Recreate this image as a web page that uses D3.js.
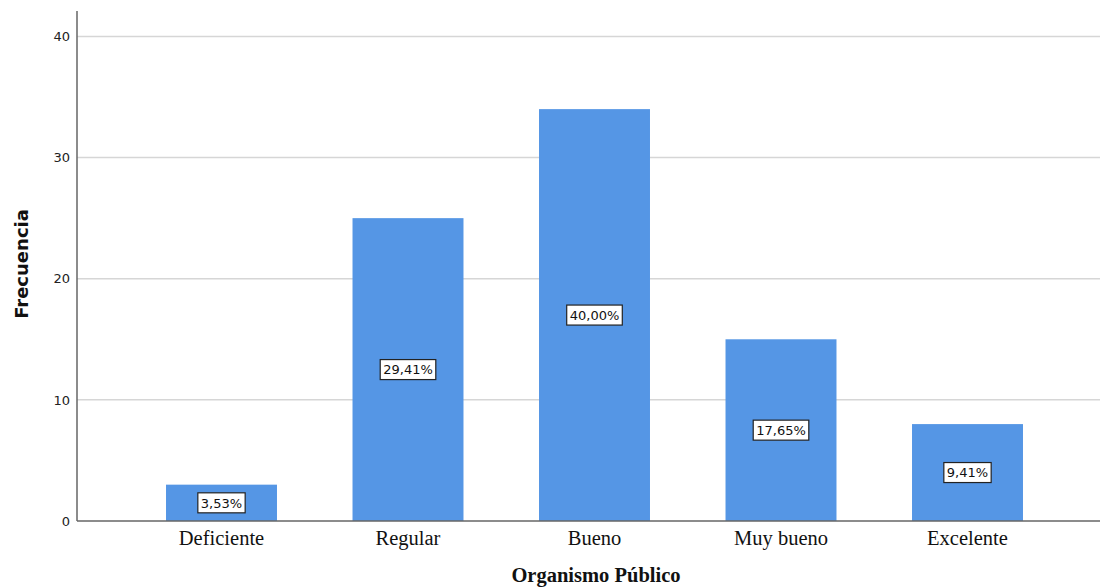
<!DOCTYPE html>
<html><head><meta charset="utf-8">
<script src="https://cdn.jsdelivr.net/npm/d3@7"></script>
<style>body{margin:0;background:#fff}svg{display:block}</style>
</head><body>
<svg id="c" width="1100" height="587"></svg>
<script>
const categories = ["Deficiente","Regular","Bueno","Muy bueno","Excelente"];
const frequencies = [3,25,34,15,8];
const percentLabels = ["3,53%","29,41%","40,00%","17,65%","9,41%"];
const yTicks = [0,10,20,30,40];
const yTitle = "Frecuencia";
const xTitle = "Organismo Público";

(function(){
const svg = d3.select("#c");
const mLeft = 77, mRight = 1100, mTop = 11, mBottom = 521;
const y = d3.scaleLinear().domain([0,42.1]).range([mBottom, mTop]);
const x = d3.scaleBand().domain(categories).range([128.25,1060.75]).paddingInner(0.405).paddingOuter(0.2025);

// gridlines
svg.append("g").selectAll("line").data(yTicks.filter(d=>d>0)).join("line")
  .attr("x1", mLeft).attr("x2", mRight)
  .attr("y1", d=>y(d)).attr("y2", d=>y(d))
  .attr("stroke","#d6d6d6").attr("stroke-width",1.5);

// y axis
const yAxis = d3.axisLeft(y).tickValues(yTicks).tickSize(0).tickPadding(7);
const gy = svg.append("g").attr("transform",`translate(${mLeft},0)`).call(yAxis);
gy.select(".domain").remove();
gy.selectAll("text").attr("font-family","'DejaVu Sans', sans-serif").attr("font-size",13).attr("fill","#222");

// bars
svg.append("g").selectAll("rect").data(categories).join("rect")
  .attr("x", d=>x(d)).attr("width", x.bandwidth())
  .attr("y", (d,i)=>y(frequencies[i]))
  .attr("height", (d,i)=>mBottom - y(frequencies[i]))
  .attr("fill","#5596e5");

// axis lines
svg.append("line").attr("x1",mLeft).attr("x2",mLeft).attr("y1",mTop).attr("y2",mBottom).attr("stroke","#666").attr("stroke-width",1.5);
svg.append("line").attr("x1",mLeft).attr("x2",mRight).attr("y1",mBottom).attr("y2",mBottom).attr("stroke","#666").attr("stroke-width",1.5);

// x axis labels
const xAxis = d3.axisBottom(x).tickSize(0).tickPadding(9);
const gx = svg.append("g").attr("transform",`translate(0,${mBottom})`).call(xAxis);
gx.select(".domain").remove();
gx.selectAll("text").attr("font-family","'Liberation Serif', 'Times New Roman', serif").attr("font-size",20.5).attr("fill","#111");

// percent labels
const lg = svg.append("g").selectAll("g").data(categories).join("g")
  .attr("transform",(d,i)=>`translate(${x(d)+x.bandwidth()/2},${(y(frequencies[i])+mBottom)/2})`);
lg.each(function(d,i){
  const g = d3.select(this);
  const t = g.append("text").text(percentLabels[i])
    .attr("text-anchor","middle").attr("dy","0.36em")
    .attr("font-family","'DejaVu Sans', sans-serif").attr("font-size",13).attr("fill","#111");
  const w = t.node().getComputedTextLength();
  g.insert("rect","text").attr("x",-w/2-3).attr("y",-10).attr("width",w+6).attr("height",20)
    .attr("fill","#fff").attr("stroke","#222").attr("stroke-width",1.2);
});

// titles
svg.append("text").attr("transform","translate(28,264) rotate(-90)")
  .attr("text-anchor","middle").attr("font-family","'DejaVu Sans', sans-serif").attr("font-weight","bold").attr("font-size",18).attr("fill","#111").text(yTitle);
svg.append("text").attr("x",596).attr("y",582).attr("text-anchor","middle")
  .attr("font-family","'Liberation Serif', 'Times New Roman', serif").attr("font-weight","bold").attr("font-size",20.5).attr("fill","#111").text(xTitle);
})();
</script>
</body></html>
